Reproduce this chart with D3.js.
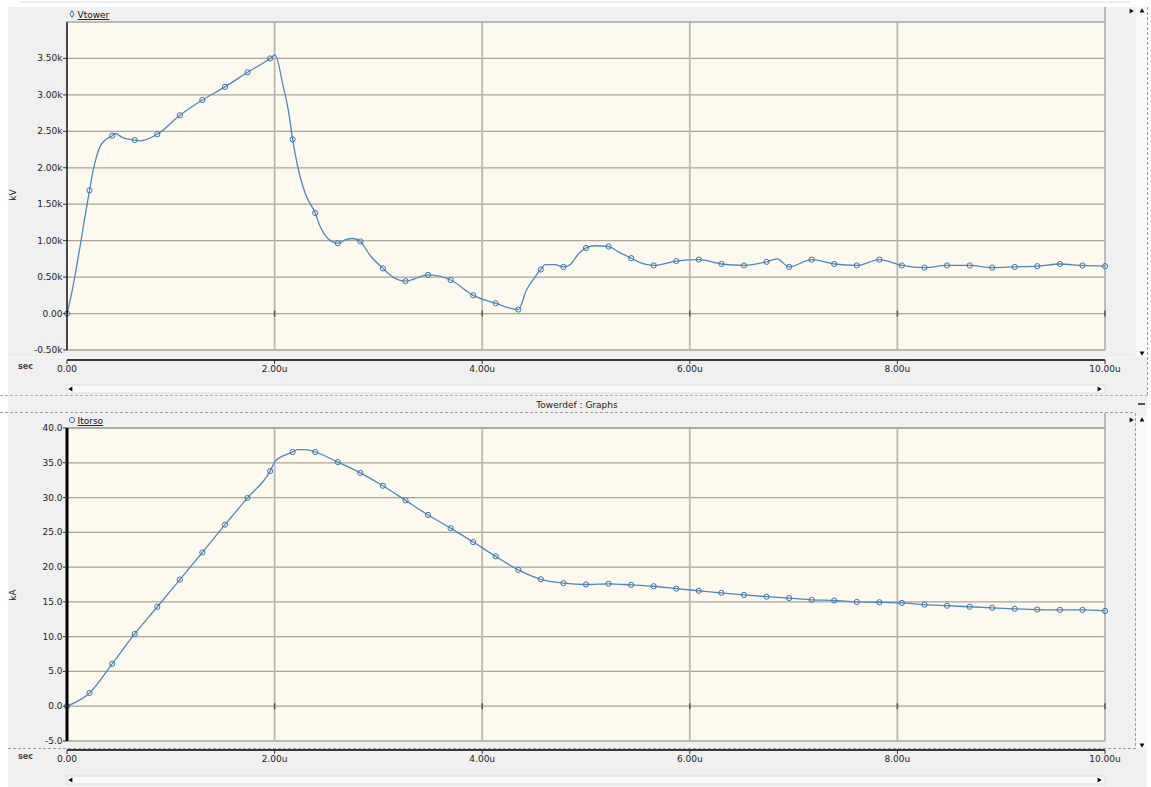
<!DOCTYPE html>
<html>
<head>
  <title>Towerdef : Graphs</title>
  <script src="https://d3js.org/d3.v7.min.js"></script>
  <style>
    body { margin: 0; background: #ffffff; }
    text { font-family: "DejaVu Sans", sans-serif; }
  </style>
</head>
<body>
  <svg id="graphs" width="1151" height="787"></svg>

  <script>
    // marker times (usec), shared by both graphs
    var markerTimes = [0.000, 0.217, 0.435, 0.652, 0.870, 1.087, 1.304, 1.522, 1.739, 1.957,
      2.174, 2.391, 2.609, 2.826, 3.043, 3.261, 3.478, 3.696, 3.913, 4.130,
      4.348, 4.565, 4.783, 5.000, 5.217, 5.435, 5.652, 5.870, 6.087, 6.304,
      6.522, 6.739, 6.957, 7.174, 7.391, 7.609, 7.826, 8.043, 8.261, 8.478,
      8.696, 8.913, 9.130, 9.348, 9.565, 9.783, 10.000];

    // Vtower (kV) at the markers
    var vtowerKV = [0, 1690, 2440, 2380, 2460, 2720, 2930, 3110, 3310, 3500,
      2390, 1380, 965, 990, 620, 445, 530, 460, 250, 140,
      55, 605, 640, 900, 920, 760, 660, 720, 740, 680,
      660, 710, 640, 740, 680, 660, 740, 660, 630, 660,
      660, 630, 640, 650, 680, 660, 650];
    // extra points of the Vtower trace between markers
    var vtowerExtraT = [0.045, 0.093, 0.142, 0.173, 0.253, 0.318, 0.366, 0.462, 0.542, 0.703,
      2.004, 2.084, 2.132, 2.197, 2.245, 2.303, 2.437, 2.514, 2.678, 2.755,
      2.919, 3.141, 4.429, 4.492, 4.605, 4.701, 4.846, 4.923, 5.087, 5.308,
      5.520, 6.840];
    var vtowerExtraKV = [280, 650, 1060, 1330, 1970, 2290, 2380, 2470, 2410, 2370,
      3550, 3110, 2790, 2200, 1880, 1620, 1200, 1030, 1010, 1030,
      800, 500, 330, 470, 670, 670, 670, 810, 930, 850,
      700, 750];

    // Itorso (kA) at the markers
    var itorsoKA = [0.0, 1.9, 6.1, 10.4, 14.3, 18.2, 22.1, 26.1, 29.95, 33.8,
      36.55, 36.55, 35.1, 33.55, 31.7, 29.6, 27.5, 25.6, 23.6, 21.55,
      19.6, 18.25, 17.7, 17.5, 17.6, 17.45, 17.25, 16.9, 16.6, 16.3,
      16.0, 15.75, 15.55, 15.3, 15.2, 15.0, 14.95, 14.85, 14.6, 14.45,
      14.3, 14.15, 14.0, 13.9, 13.85, 13.85, 13.7];
    var itorsoExtraT = [2.004, 2.100, 2.220, 2.300];
    var itorsoExtraKA = [35.2, 36.1, 36.9, 36.9];

    // axis ticks
    var timeTicks = [0, 2, 4, 6, 8, 10];
    var timeTickLabels = ["0.00", "2.00u", "4.00u", "6.00u", "8.00u", "10.00u"];
    var kvTicks = [-500, 0, 500, 1000, 1500, 2000, 2500, 3000, 3500];
    var kvTickLabels = ["-0.50k", "0.00", "0.50k", "1.00k", "1.50k", "2.00k", "2.50k", "3.00k", "3.50k"];
    var kaTicks = [-5, 0, 5, 10, 15, 20, 25, 30, 35, 40];
    var kaTickLabels = ["-5.0", "0.0", "5.0", "10.0", "15.0", "20.0", "25.0", "30.0", "35.0", "40.0"];

    var svg = d3.select("#graphs");
    var lineColor = "#4d88c0";
    var markColor = "#3d74aa";

    var xScale = d3.scaleLinear().domain([0, 10]).range([67, 1105]);

    function mergeSeries(mt, mv, et, ev) {
      var pts = mt.map(function(t, i) { return { t: t, v: mv[i] }; })
        .concat(et.map(function(t, i) { return { t: t, v: ev[i] }; }));
      pts.sort(function(a, b) { return a.t - b.t; });
      return pts;
    }

    function tri(g, cx, cy, rot) {
      g.append("path")
        .attr("d", d3.symbol().type(d3.symbolTriangle).size(10)())
        .attr("transform", "translate(" + cx + "," + cy + ") rotate(" + rot + ")")
        .attr("fill", "#111");
    }

    // panel backgrounds
    svg.append("rect").attr("x", 0).attr("y", 0).attr("width", 1151).attr("height", 787).attr("fill", "#ffffff");
    svg.append("rect").attr("x", 8).attr("y", 7).attr("width", 1139).attr("height", 780).attr("fill", "#f0f0f0");
    svg.append("line").attr("x1", 20).attr("x2", 1130).attr("y1", 2).attr("y2", 2)
      .attr("stroke", "#dddddd").attr("stroke-width", 1);

    function drawPanel(p) {
      var g = svg.append("g");
      var yScale = d3.scaleLinear().domain(p.yDomain).range([p.bottom, p.top]);

      // plot area
      g.append("rect")
        .attr("x", xScale(0)).attr("y", p.top)
        .attr("width", xScale(10) - xScale(0)).attr("height", p.bottom - p.top)
        .attr("fill", "#fdf9ee");

      // horizontal grid
      g.selectAll(".hgrid").data(p.yTicks).enter().append("line")
        .attr("x1", xScale(0)).attr("x2", xScale(10))
        .attr("y1", function(d) { return yScale(d); })
        .attr("y2", function(d) { return yScale(d); })
        .attr("stroke", "#a8a49b").attr("stroke-width", 1.3);

      // vertical grid
      g.selectAll(".vgrid").data(timeTicks.slice(1, 5)).enter().append("line")
        .attr("x1", function(d) { return xScale(d); })
        .attr("x2", function(d) { return xScale(d); })
        .attr("y1", p.top).attr("y2", p.bottom)
        .attr("stroke", "#bdb8ae").attr("stroke-width", 1.8);

      // borders
      g.append("line").attr("x1", xScale(0)).attr("x2", xScale(10))
        .attr("y1", p.top).attr("y2", p.top)
        .attr("stroke", "#a9a9a9").attr("stroke-width", 1.5);
      g.append("line").attr("x1", xScale(10)).attr("x2", xScale(10))
        .attr("y1", p.top - 15).attr("y2", p.bottom)
        .attr("stroke", "#a9a9a9").attr("stroke-width", 1.5);

      // small time ticks on the zero line
      g.selectAll(".ztick").data(timeTicks.slice(1)).enter().append("line")
        .attr("x1", function(d) { return xScale(d); })
        .attr("x2", function(d) { return xScale(d); })
        .attr("y1", yScale(0) - 3).attr("y2", yScale(0) + 3)
        .attr("stroke", "#555").attr("stroke-width", 1.5);

      // trace
      var pts = mergeSeries(markerTimes, p.marks, p.extraT, p.extraV);
      var line = d3.line()
        .x(function(d) { return xScale(d.t); })
        .y(function(d) { return yScale(d.v); })
        .curve(d3.curveMonotoneX);
      g.append("path").datum(pts)
        .attr("d", line)
        .attr("fill", "none")
        .attr("stroke", lineColor)
        .attr("stroke-width", 1.3);

      g.selectAll(".mark").data(p.marks).enter().append("circle")
        .attr("cx", function(d, i) { return xScale(markerTimes[i]); })
        .attr("cy", function(d) { return yScale(d); })
        .attr("r", 2.6)
        .attr("fill", "none")
        .attr("stroke", markColor)
        .attr("stroke-width", 1);

      // y axis
      g.append("line").attr("x1", xScale(0)).attr("x2", xScale(0))
        .attr("y1", p.top).attr("y2", p.bottom)
        .attr("stroke", "#000").attr("stroke-width", p.axisWidth);
      g.selectAll(".ytick").data(p.yTicks).enter().append("line")
        .attr("x1", xScale(0) - 4).attr("x2", xScale(0))
        .attr("y1", function(d) { return yScale(d); })
        .attr("y2", function(d) { return yScale(d); })
        .attr("stroke", "#333").attr("stroke-width", 1);
      g.selectAll(".ylab").data(p.yTicks).enter().append("text")
        .attr("x", xScale(0) - 4.5)
        .attr("y", function(d) { return yScale(d) + 3; })
        .attr("text-anchor", "end")
        .attr("font-size", "9px")
        .attr("fill", "#222")
        .text(function(d, i) { return p.yLabels[i]; });

      g.append("text")
        .attr("transform", "translate(16," + p.unitY + ") rotate(-90)")
        .attr("text-anchor", "middle")
        .attr("font-size", "9px")
        .attr("fill", "#222")
        .text(p.unit);

      // x axis
      g.append("line").attr("x1", xScale(0)).attr("x2", xScale(10))
        .attr("y1", p.axisY).attr("y2", p.axisY)
        .attr("stroke", "#3a3a3a").attr("stroke-width", 2);
      g.selectAll(".xtick").data(timeTicks).enter().append("line")
        .attr("x1", function(d) { return xScale(d); })
        .attr("x2", function(d) { return xScale(d); })
        .attr("y1", p.axisY).attr("y2", p.axisY + 4)
        .attr("stroke", "#333").attr("stroke-width", 1);
      g.selectAll(".xlab").data(timeTicks).enter().append("text")
        .attr("x", function(d) { return xScale(d); })
        .attr("y", p.axisY + 12)
        .attr("text-anchor", "middle")
        .attr("font-size", "9px")
        .attr("fill", "#222")
        .text(function(d, i) { return timeTickLabels[i]; });
      g.append("text")
        .attr("x", 18).attr("y", p.axisY + 9)
        .attr("font-size", "8px")
        .attr("font-weight", "bold")
        .attr("fill", "#444")
        .text("sec");

      // legend
      if (p.legendShape === "diamond") {
        g.append("path")
          .attr("d", d3.symbol().type(d3.symbolDiamond).size(14)())
          .attr("transform", "translate(72," + (p.top - 8) + ")")
          .attr("fill", "none").attr("stroke", markColor).attr("stroke-width", 1);
      } else {
        g.append("circle").attr("cx", 72).attr("cy", p.top - 8).attr("r", 2.6)
          .attr("fill", "none").attr("stroke", markColor).attr("stroke-width", 1);
      }
      g.append("text")
        .attr("x", 77.5).attr("y", p.top - 4)
        .attr("font-size", "9px")
        .attr("text-decoration", "underline")
        .attr("fill", "#111")
        .text(p.legend);

      // horizontal scrollbar
      g.append("rect").attr("x", xScale(0)).attr("y", p.scrollY)
        .attr("width", xScale(10) - xScale(0)).attr("height", 8)
        .attr("fill", "#f9f9f9").attr("stroke", "#dcdcdc").attr("stroke-width", 1);
      tri(g, 71, p.scrollY + 4, -90);
      tri(g, 1099, p.scrollY + 4, 90);

      // vertical scroll lane
      g.append("rect").attr("x", 1136).attr("y", p.laneTop)
        .attr("width", 11).attr("height", p.laneBottom - p.laneTop)
        .attr("fill", "#f9f9f9");
      tri(g, 1142, p.laneTop + 4, 0);
      tri(g, 1142, p.laneBottom - 4, 180);
      tri(g, 1131, p.laneTop + 4, 90);
    }

    drawPanel({
      top: 22, bottom: 350, axisY: 360, scrollY: 385,
      laneTop: 7, laneBottom: 357,
      yDomain: [-500, 4000], yTicks: kvTicks, yLabels: kvTickLabels,
      unit: "kV", unitY: 195, axisWidth: 1.4,
      legend: "Vtower", legendShape: "diamond",
      marks: vtowerKV, extraT: vtowerExtraT, extraV: vtowerExtraKV
    });

    drawPanel({
      top: 428, bottom: 741, axisY: 750, scrollY: 776,
      laneTop: 416, laneBottom: 749,
      yDomain: [-5, 40], yTicks: kaTicks, yLabels: kaTickLabels,
      unit: "kA", unitY: 595, axisWidth: 3,
      legend: "Itorso", legendShape: "circle",
      marks: itorsoKA, extraT: itorsoExtraT, extraV: itorsoExtraKA
    });

    // separators between the two graphs
    svg.append("line").attr("x1", 8).attr("x2", 1135).attr("y1", 357.5).attr("y2", 357.5)
      .attr("stroke", "#fafafa").attr("stroke-width", 1);
    svg.append("line").attr("x1", 0).attr("x2", 1147).attr("y1", 395.5).attr("y2", 395.5)
      .attr("stroke", "#c9a597").attr("stroke-width", 1).attr("stroke-dasharray", "3,2");
    svg.append("line").attr("x1", 1147.5).attr("x2", 1147.5).attr("y1", 7).attr("y2", 395)
      .attr("stroke", "#d08a78").attr("stroke-width", 1).attr("stroke-dasharray", "3,2");
    svg.append("line").attr("x1", 0).attr("x2", 1135).attr("y1", 412.5).attr("y2", 412.5)
      .attr("stroke", "#9c9c9c").attr("stroke-width", 1).attr("stroke-dasharray", "3,2");
    svg.append("line").attr("x1", 1135.5).attr("x2", 1135.5).attr("y1", 413).attr("y2", 749)
      .attr("stroke", "#9c9c9c").attr("stroke-width", 1).attr("stroke-dasharray", "3,2");
    svg.append("line").attr("x1", 8).attr("x2", 1135).attr("y1", 748.5).attr("y2", 748.5)
      .attr("stroke", "#9c9c9c").attr("stroke-width", 1).attr("stroke-dasharray", "3,2");
    svg.append("text")
      .attr("x", 577).attr("y", 408)
      .attr("text-anchor", "middle")
      .attr("font-size", "9px")
      .attr("fill", "#222")
      .text("Towerdef : Graphs");
    svg.append("line").attr("x1", 1138).attr("x2", 1145).attr("y1", 404).attr("y2", 404)
      .attr("stroke", "#222").attr("stroke-width", 1.5);
  </script>
</body>
</html>
